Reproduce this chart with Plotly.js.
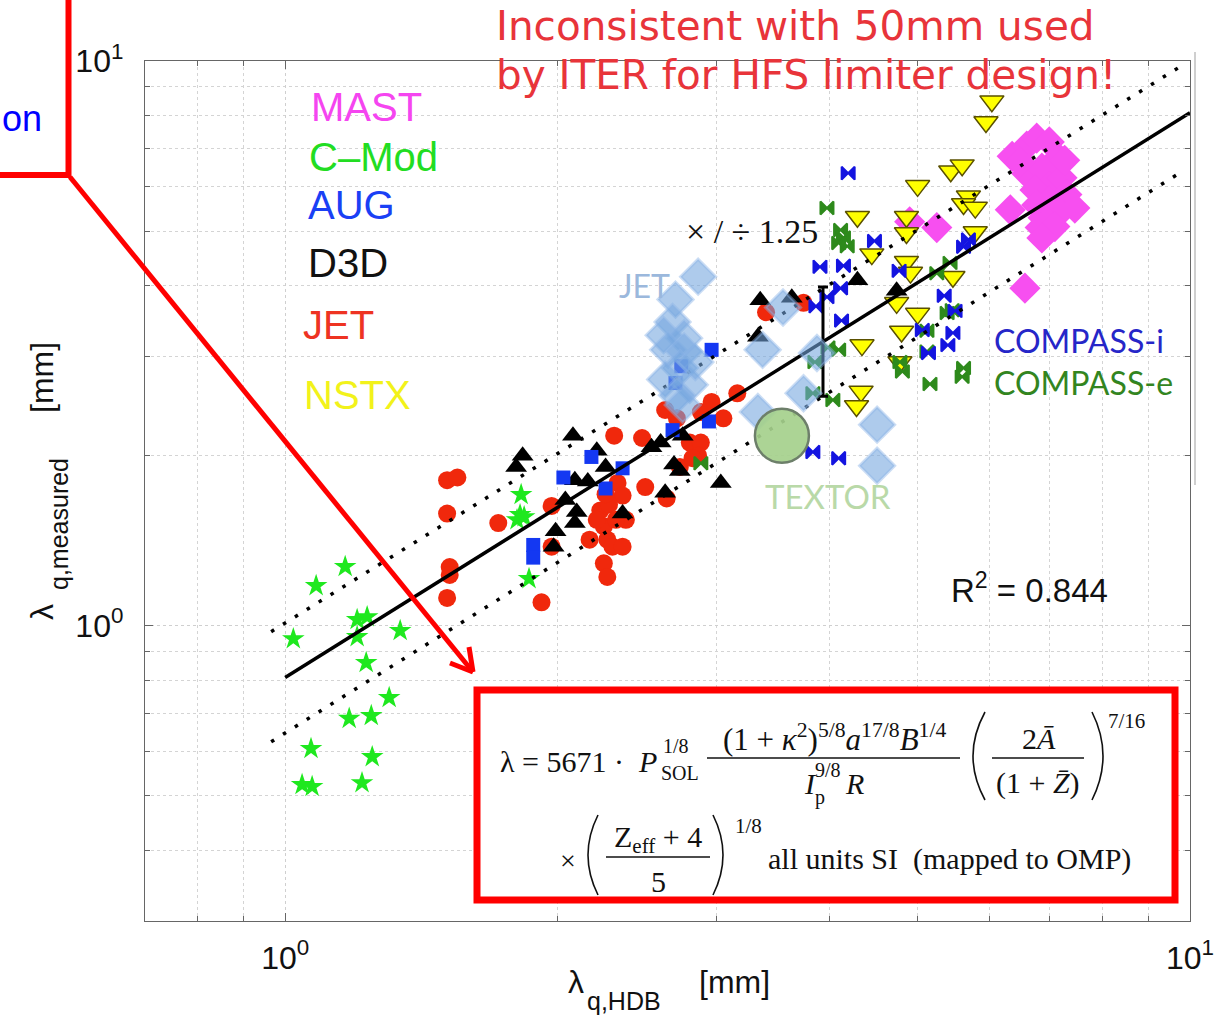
<!DOCTYPE html>
<html>
<head>
<meta charset="utf-8">
<script src="https://cdn.plot.ly/plotly-3.0.1.min.js"></script>
<style>html,body{margin:0;padding:0;background:#fff;}#chart{width:1215px;height:1017px;}</style>
</head>
<body>
<div id="chart"></div>
<script>
// ---------------- data ----------------
const cmodX = [1.165,1.082,1.021,1.201,1.232,1.340,1.201,1.229,1.303,1.177,1.245,1.068,1.248,1.044,1.071,1.216,1.823,1.818,1.804,1.837,1.860];
const cmodY = [1.272,1.177,0.948,1.025,1.037,0.980,0.956,0.860,0.746,0.685,0.693,0.606,0.586,0.523,0.519,0.527,1.706,1.572,1.540,1.559,1.211];

const jetX = [1.51,1.55,1.51,1.72,1.52,1.52,1.51,1.92,1.97,1.97,2.23,2.25,2.33,2.36,2.27,2.30,2.36,2.25,2.27,2.21,2.38,2.31,2.48,2.50,2.63,2.71,2.88,2.96,3.05,3.16,2.80,2.88,2.86,2.73,2.82,2.64,3.40,3.74,2.28,2.17,2.32,2.26];
const jetY = [1.81,1.83,1.58,1.52,1.27,1.23,1.12,1.10,1.63,1.38,1.60,1.50,1.79,1.70,1.42,1.38,1.38,1.29,1.22,1.54,1.54,2.17,2.15,1.76,2.41,2.33,2.39,2.49,2.33,2.58,2.11,2.11,2.00,1.91,1.98,1.68,3.59,3.73,1.64,1.42,1.54,1.71];

const d3dX = [1.83,1.80,2.08,2.21,2.26,2.09,2.16,2.04,2.10,2.09,2.36,1.99,1.98,2.54,2.60,2.75,2.69,2.63,3.03,3.35,3.63,4.29,4.74,3.33,2.73];
const d3dY = [2.00,1.91,2.17,2.04,1.91,1.81,1.80,1.67,1.59,1.52,1.58,1.47,1.38,2.07,2.11,2.17,1.93,1.72,1.79,3.77,3.81,4.09,3.92,3.25,1.88];

const augX = [1.88,1.88,2.03,2.18,2.26,2.36,2.68,2.94,2.96,2.74,2.70];
const augY = [1.39,1.32,1.83,1.99,1.75,1.90,2.22,2.30,3.08,2.88,2.69];

const nstxX = [6.04,5.95,5.44,5.60,5.00,5.69,5.62,5.79,4.29,4.86,4.86,5.79,4.45,4.86,4.91,5.47,4.74,5.00,4.80,4.34,4.78,4.33,4.28];
const nstxY = [8.49,7.80,6.38,6.54,6.01,5.76,5.58,5.50,5.30,5.30,4.96,4.98,4.55,4.41,4.22,4.15,3.73,3.57,3.32,3.14,2.93,2.60,2.45];

const mastX = [6.36,6.60,6.77,6.99,7.15,6.60,6.86,6.99,7.22,6.74,7.31,6.77,6.99,7.46,6.33,7.18,6.88,6.83,7.09,6.86,6.57,4.90,5.25,6.49,7.27];
const mastY = [6.78,7.07,7.30,7.19,6.75,6.32,6.46,6.00,6.21,5.91,5.80,5.56,5.65,5.49,5.45,5.39,5.28,5.07,5.09,4.86,3.96,5.19,5.07,6.62,6.67];

const compassIX = [4.19,4.48,3.90,4.14,4.77,3.97,4.11,3.86,4.12,5.35,5.62,5.69,5.50,5.06,5.14,5.40,5.47,3.83,4.09];
const compassIY = [6.33,4.80,4.32,4.34,4.25,3.82,3.96,3.68,3.47,3.84,4.69,4.83,3.61,3.34,3.04,3.14,3.30,2.03,1.98];

const compassEX = [3.97,4.11,4.14,4.18,4.09,5.25,5.43,5.46,5.12,5.12,4.78,4.81,5.62,5.60,5.16,3.98,4.09,3.85,3.83,4.03,2.88,5.39];
const compassEY = [5.49,5.02,4.87,4.70,4.76,4.21,4.39,3.62,3.33,3.06,2.93,2.82,2.86,2.76,2.68,3.11,3.08,2.93,2.58,2.51,1.94,3.58];

const jetLimX = [2.86,2.70,2.68,2.62,2.76,2.65,2.76,2.73,2.63,2.80,2.71,2.75,3.55,3.37,3.74,3.33,3.87,4.51,4.51,2.84];
const jetLimY = [4.15,3.78,3.45,3.27,3.23,3.08,3.06,2.86,2.73,2.67,2.56,2.46,3.66,3.08,2.58,2.39,3.04,2.27,1.92,2.93];

const textorX = [3.54];
const textorY = [2.17];

const fitX = [1.0, 10.0];
const fitY = [0.81, 8.1];
const upperX = [0.965, 9.75];
const upperY = [0.976, 9.77];
const lowerX = [0.965, 9.75];
const lowerY = [0.623, 6.34];

const errX = [3.93];
const errY = [3.18];
const errPlus = [0.80];
const errMinus = [0.63];

const xTickVals = [1, 10];
const xTickText = ['10<sup>0</sup>', '10<sup>1</sup>'];
const yTickVals = [1, 10];
const yTickText = ['10<sup>0</sup>', '10<sup>1</sup>'];
const xMinor = [0.7,0.8,0.9,2,3,4,5,6,7,8,9];
const yMinor = [0.3,0.4,0.5,0.6,0.7,0.8,0.9,2,3,4,5,6,7,8,9];

const legendNames = ['MAST','C\u2013Mod','AUG','D3D','JET','NSTX'];
const legendColors = ['#f545f0','#22dd22','#1a40f5','#111111','#ee3322','#f2f21a'];

// ---------------- layout helpers (page pixel -> paper) ----------------
const L = 145, T = 61, W = 1045, H = 860;
const px = x => (x - L) / W;
const py = y => (T + H - y) / H;

const SANS = 'Liberation Sans, Arial, sans-serif';
const SERIF = 'Liberation Serif, Times New Roman, serif';
const GILL = 'Lato, Open Sans, sans-serif';

function ann(text, x, y, size, color, family, xanchor, extra) {
  return Object.assign({
    text: text, xref: 'paper', yref: 'paper', x: px(x), y: py(y),
    xanchor: xanchor || 'left', yanchor: 'middle', showarrow: false,
    font: {size: size, color: color, family: family}
  }, extra || {});
}
function seg(x0, y0, x1, y1, color, width) {
  return {type: 'line', xref: 'paper', yref: 'paper', x0: px(x0), y0: py(y0), x1: px(x1), y1: py(y1),
    line: {color: color, width: width}, layer: 'above'};
}
function paren(xe, ytop, ybot, xc) {
  const ym = (ytop + ybot) / 2;
  return {type: 'path', xref: 'paper', yref: 'paper', layer: 'above',
    path: `M ${px(xe)},${py(ytop)} Q ${px(xc)},${py(ym)} ${px(xe)},${py(ybot)}`,
    line: {color: '#111', width: 1.6}};
}

// ---------------- traces ----------------
const traces = [
  {x: mastX, y: mastY, type: 'scatter', mode: 'markers', name: 'MAST',
   marker: {symbol: 'diamond', size: 24, color: '#f74ff0'}},
  {x: cmodX, y: cmodY, type: 'scatter', mode: 'markers', name: 'C-Mod',
   marker: {symbol: 'star', size: 17, color: '#1fe81f'}},
  {x: jetX, y: jetY, type: 'scatter', mode: 'markers', name: 'JET',
   marker: {symbol: 'circle', size: 18, color: '#f0280c'}},
  {x: d3dX, y: d3dY, type: 'scatter', mode: 'markers', name: 'D3D',
   marker: {symbol: 'triangle-up', size: 19, color: '#000'}},
  {x: augX, y: augY, type: 'scatter', mode: 'markers', name: 'AUG',
   marker: {symbol: 'square', size: 14, color: '#1438f2'}},
  {x: nstxX, y: nstxY, type: 'scatter', mode: 'markers', name: 'NSTX',
   marker: {symbol: 'triangle-down', size: 21, color: '#ffff00', line: {color: '#5a5000', width: 1.5}}},
  {x: compassEX, y: compassEY, type: 'scatter', mode: 'markers', name: 'COMPASS-e',
   marker: {symbol: 'bowtie', size: 13, color: '#2e8a1c', line: {color: '#2e8a1c', width: 2}}},
  {x: compassIX, y: compassIY, type: 'scatter', mode: 'markers', name: 'COMPASS-i',
   marker: {symbol: 'bowtie', size: 13, color: '#1414e0', line: {color: '#1414e0', width: 2}}},
  {x: fitX, y: fitY, type: 'scatter', mode: 'lines', name: 'fit',
   line: {color: '#000', width: 3.5}},
  {x: upperX, y: upperY, type: 'scatter', mode: 'lines', name: 'x1.25',
   line: {color: '#000', width: 3.5, dash: '3.5px,10.5px'}},
  {x: lowerX, y: lowerY, type: 'scatter', mode: 'lines', name: '/1.25',
   line: {color: '#000', width: 3.5, dash: '3.5px,10.5px'}},
  {x: errX, y: errY, type: 'scatter', mode: 'markers', name: 'range',
   marker: {size: 1, color: 'rgba(0,0,0,0)'},
   error_y: {type: 'data', symmetric: false, array: errPlus, arrayminus: errMinus,
             color: '#000', thickness: 3, width: 5}},
  {x: jetLimX, y: jetLimY, type: 'scatter', mode: 'markers', name: 'JET limiter',
   marker: {symbol: 'diamond', size: 27, color: 'rgba(115,165,222,0.58)',
            line: {color: 'rgba(140,180,230,0.45)', width: 3}}},
  {x: textorX, y: textorY, type: 'scatter', mode: 'markers', name: 'TEXTOR',
   marker: {symbol: 'circle', size: 54, color: 'rgba(165,208,140,0.92)',
            line: {color: '#6d7f6a', width: 2.5}}}
];

// ---------------- annotations ----------------
const legendY = [107, 157, 205, 263, 325, 395];
const legendX = [309, 307, 306, 306, 301, 302];
const annotations = legendNames.map((n, i) => ann(n, legendX[i], legendY[i], 40, legendColors[i], SANS));

annotations.push(
  ann('Inconsistent with 50mm used', 494, 26, 40.5, '#e8343a', 'DejaVu Sans'),
  ann('by ITER for HFS limiter design!', 494, 75, 40.5, '#e8343a', 'DejaVu Sans'),
  ann('on', 0, 119, 36, '#0000ff', SANS, 'left'),
  ann('\u00d7 / \u00f7 1.25', 684, 231, 34, '#111', SERIF),
  ann('JET', 617, 285, 32, '#9bb8dc', GILL),
  ann('COMPASS-i', 992, 340, 32, '#2626c8', GILL),
  ann('COMPASS-e', 992, 382, 32, '#33851f', GILL),
  ann('TEXTOR', 763, 496, 33, '#b9d9a8', GILL),
  ann('R<sup>2</sup> = 0.844', 949, 588, 33, '#111', SANS),
  // x-axis title
  ann('\u03bb', 576, 982, 32, '#111', SANS, 'center'),
  ann('q,HDB', 585, 1001, 25, '#111', SANS, 'left'),
  ann('[mm]', 697, 982, 32, '#111', SANS, 'left'),
  // y-axis title
  ann('\u03bb', 42, 612, 32, '#111', SANS, 'center', {textangle: -90}),
  ann('q,measured', 59, 524, 25, '#111', SANS, 'center', {textangle: -90}),
  ann('[mm]', 42, 378, 32, '#111', SANS, 'center', {textangle: -90}),
  // equation line 1
  ann('\u03bb = 5671 \u00b7 ', 498, 761, 30, '#111', SERIF),
  ann('<i>P</i>', 636, 761, 30, '#111', SERIF),
  ann('1/8', 661, 746, 20, '#111', SERIF),
  ann('SOL', 659, 773, 20, '#111', SERIF),
  ann('(1 + <i>\u03ba</i><sup>2</sup>)<sup>5/8</sup><i>a</i><sup>17/8</sup><i>B</i><sup>1/4</sup>', 834, 737, 31, '#111', SERIF, 'center'),
  ann('<i>I</i>', 802, 783, 30, '#111', SERIF),
  ann('p', 813, 797, 20, '#111', SERIF),
  ann('9/8', 813, 770, 20, '#111', SERIF),
  ann('<i>R</i>', 843, 783, 30, '#111', SERIF),
  ann('2<i>\u0100</i>', 1039, 738, 30, '#111', SERIF, 'center'),
  ann('(1 + <i>Z\u0304</i>)', 1038, 783, 30, '#111', SERIF, 'center'),
  ann('7/16', 1106, 721, 21, '#111', SERIF),
  // equation line 2
  ann('\u00d7', 568, 860, 28, '#111', SERIF, 'center'),
  ann('Z<sub>eff</sub> + 4', 658, 839, 30, '#111', SERIF, 'center'),
  ann('5', 658, 881, 30, '#111', SERIF, 'center'),
  ann('1/8', 733, 826, 21, '#111', SERIF),
  ann('all units SI  (mapped to OMP)', 766, 859, 30, '#111', SERIF)
);

// ---------------- shapes ----------------
const shapes = [
  {type: 'line', xref: 'paper', yref: 'paper', x0: px(1195), x1: px(1195), y0: py(485), y1: py(52),
   line: {color: '#cfcfcf', width: 2}, layer: 'below'},
  {type: 'rect', xref: 'paper', yref: 'paper', x0: px(-60), x1: px(68.5), y0: py(175), y1: py(-60),
   line: {color: '#ff0000', width: 6}, layer: 'above'},
  seg(70, 177, 473, 672, '#ff0000', 5),
  seg(473, 672, 450, 663, '#ff0000', 5),
  seg(473, 672, 469, 647, '#ff0000', 5),
  {type: 'rect', xref: 'paper', yref: 'paper', x0: px(477), x1: px(1175), y0: py(900), y1: py(690),
   line: {color: '#ff0000', width: 7}, fillcolor: '#ffffff', layer: 'above'},
  seg(707, 758, 960, 758, '#111', 1.4),
  seg(992, 758, 1084, 758, '#111', 1.4),
  seg(606, 857, 710, 857, '#111', 1.4),
  paren(985, 712, 800, 961),
  paren(1092, 712, 800, 1114),
  paren(598, 815, 895, 578),
  paren(713, 815, 895, 733)
];

const axisCommon = {
  type: 'log', showline: true, linecolor: '#666', linewidth: 1.2, mirror: 'ticks',
  ticks: 'inside', ticklen: 8, tickcolor: '#666', tickwidth: 1,
  showgrid: true, gridcolor: '#cfcfcf', griddash: 'dot', gridwidth: 1,
  zeroline: false, tickmode: 'array',
  tickfont: {family: SANS, size: 32, color: '#111'}
};

const layout = {
  width: 1215, height: 1017, autosize: false,
  margin: {l: L, r: 1215 - L - W, t: T, b: 1017 - T - H, pad: 0},
  paper_bgcolor: '#fff', plot_bgcolor: '#fff', showlegend: false,
  xaxis: Object.assign({}, axisCommon, {
    range: [Math.log10(0.7), 1], tickvals: xTickVals, ticktext: xTickText, ticklabelstandoff: 8,
    minor: {tickmode: 'array', tickvals: xMinor, ticks: 'inside', ticklen: 5, tickcolor: '#666',
            showgrid: true, gridcolor: '#d4d4d4', griddash: 'dot', gridwidth: 1}
  }),
  yaxis: Object.assign({}, axisCommon, {
    range: [Math.log10(0.3), 1], tickvals: yTickVals, ticktext: yTickText, ticklabelstandoff: 14,
    minor: {tickmode: 'array', tickvals: yMinor, ticks: 'inside', ticklen: 5, tickcolor: '#666',
            showgrid: true, gridcolor: '#d4d4d4', griddash: 'dot', gridwidth: 1}
  }),
  annotations: annotations,
  shapes: shapes
};

Plotly.newPlot('chart', traces, layout, {displayModeBar: false, staticPlot: true});
</script>
</body>
</html>
